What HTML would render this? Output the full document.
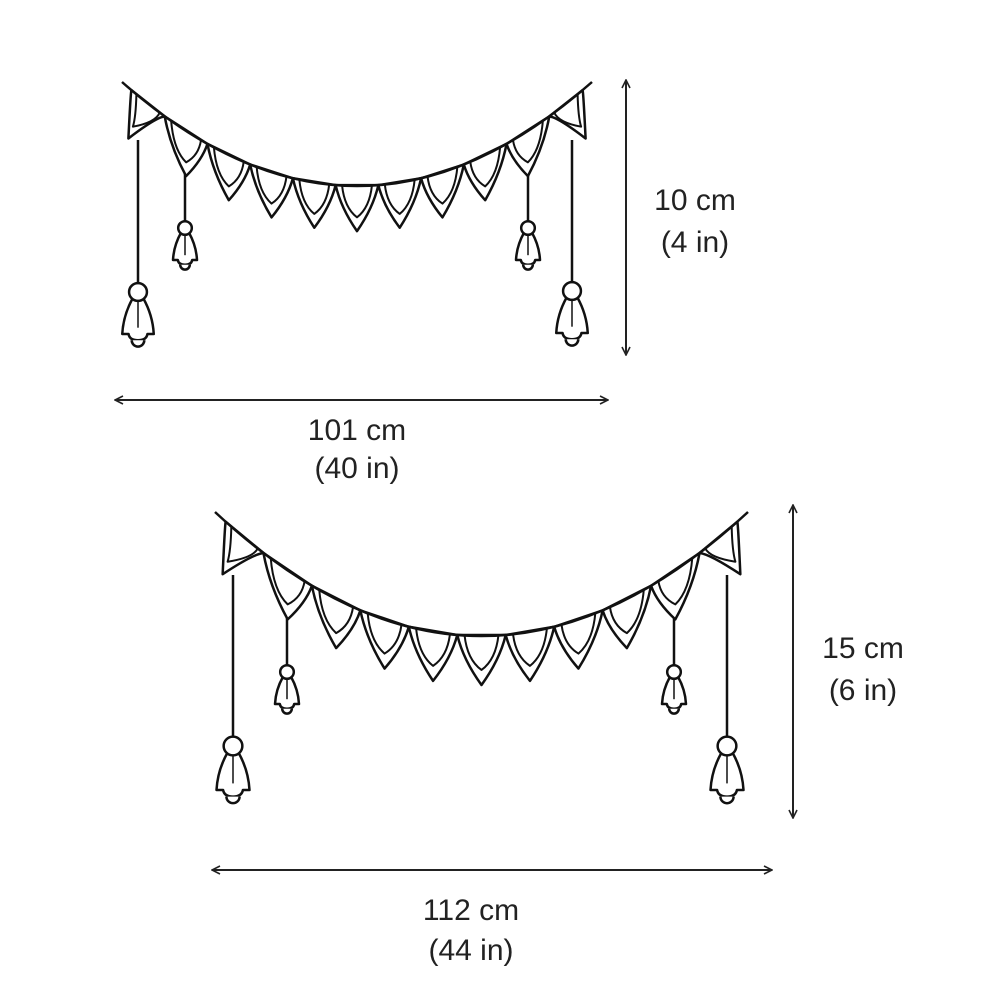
<!DOCTYPE html>
<html><head><style>
body{margin:0;background:#fff;width:1000px;height:1001px;overflow:hidden}
svg{position:absolute;left:0;top:0}
text{font-family:"Liberation Sans",sans-serif;font-size:30px;fill:#222;text-anchor:middle}
</style></head><body>
<svg id="s" width="1000" height="1001" viewBox="0 0 1000 1001">
<defs><marker id="a" markerWidth="10" markerHeight="10" refX="9" refY="5" orient="auto-start-reverse" markerUnits="userSpaceOnUse"><path d="M1,1 L9,5 L1,9" fill="none" stroke="#222" stroke-width="1.6"/></marker></defs>
<g stroke="#222" stroke-width="2" marker-start="url(#a)" marker-end="url(#a)">
<line x1="115" y1="400" x2="608" y2="400"/>
<line x1="626" y1="80" x2="626" y2="355"/>
<line x1="212" y1="870" x2="772" y2="870"/>
<line x1="793" y1="505" x2="793" y2="818"/>
</g>
<text x="695" y="210">10 cm</text><text x="695" y="252">(4 in)</text>
<text x="357" y="440">101 cm</text><text x="357" y="478">(40 in)</text>
<text x="863" y="658">15 cm</text><text x="863" y="700">(6 in)</text>
<text x="471" y="920">112 cm</text><text x="471" y="960">(44 in)</text>
<g id="g" fill="#fff" stroke="#111" stroke-width="2.5" stroke-linejoin="round"></g>
</svg>
<script>
var g=document.getElementById('g'),h='';
function garland(x0,y0,x2,ymid,n,fh,tas){
 var cy=2*ymid-y0, P=function(t){return [(1-t)*(1-t)*x0+2*t*(1-t)*(x0+x2)/2+t*t*x2,(1-t)*(1-t)*y0+2*t*(1-t)*cy+t*t*y0]};
 tas.forEach(function(q){var x=q[0],top=q[1],b=q[2],s=q[3];
  h+='<line x1="'+x+'" y1="'+top+'" x2="'+x+'" y2="'+(b-8*s)+'"/>';
  h+='<path d="M'+(x-5*s)+','+(b+6*s)+' Q'+(x-14*s)+','+(b+22*s)+' '+(x-15*s)+','+(b+40*s)+' L'+(x-9*s)+','+(b+40*s)+' Q'+(x-8*s)+','+(b+46*s)+' '+x+','+(b+46*s)+' Q'+(x+8*s)+','+(b+46*s)+' '+(x+9*s)+','+(b+40*s)+' L'+(x+15*s)+','+(b+40*s)+' Q'+(x+14*s)+','+(b+22*s)+' '+(x+5*s)+','+(b+6*s)+'Z"/>';
  h+='<path d="M'+(x-6*s)+','+(b+46*s)+' a'+(6*s)+' '+(6*s)+' 0 0 0 '+(12*s)+',0" />';
  h+='<line x1="'+x+'" y1="'+(b+8*s)+'" x2="'+x+'" y2="'+(b+34*s)+'" stroke-width="1.5"/>';
  h+='<circle cx="'+x+'" cy="'+b+'" r="'+(8.5*s)+'"/>';
 });
 var d=1/n;
 for(var i=0;i<n;i++){var A=P(i*d),B=P((i+1)*d),mx=(A[0]+B[0])/2,my=(A[1]+B[1])/2;
  var tx=mx,ty=my+fh,cf=0.5;
  if(i==0){A=P(0.02);tx=A[0]-3;ty=A[1]+fh*1.05;cf=0.05;} if(i==n-1){B=P(0.98);tx=B[0]+3;ty=B[1]+fh*1.05;cf=0.05;}
  h+='<path d="M'+A[0]+','+A[1]+' Q'+(A[0]+(tx-A[0])*0.25)+','+(A[1]+(ty-A[1])*cf)+' '+tx+','+ty+' Q'+(B[0]+(tx-B[0])*0.25)+','+(B[1]+(ty-B[1])*cf)+' '+B[0]+','+B[1]+'Z"/>';
  var vx=(tx*0.7+mx*0.3),vy=(ty*0.7+my*0.3);
  var a1x=A[0]*0.85+B[0]*0.15,a1y=A[1]*0.85+B[1]*0.15,b1x=B[0]*0.85+A[0]*0.15,b1y=B[1]*0.85+A[1]*0.15;
  h+='<path d="M'+a1x+','+a1y+' Q'+(a1x+(vx-a1x)*0.15)+','+(a1y+(vy-a1y)*0.7)+' '+vx+','+vy+' Q'+(b1x+(vx-b1x)*0.15)+','+(b1y+(vy-b1y)*0.7)+' '+b1x+','+b1y+'" fill="none" stroke-width="2"/>';
 }
 h+='<path d="M'+x0+','+y0+' Q'+(x0+x2)/2+','+cy+' '+x2+','+y0+'" fill="none"/>';
}
garland(122,82,592,186,11,46,[[138,140,292,1.05],[185,170,228,0.8],[528,170,228,0.8],[572,140,291,1.05]]);
garland(215,512,748,636,11,50,[[233,575,746,1.1],[287,605,672,0.8],[674,605,672,0.8],[727,575,746,1.1]]);
g.innerHTML=h;
</script>
</body></html>
